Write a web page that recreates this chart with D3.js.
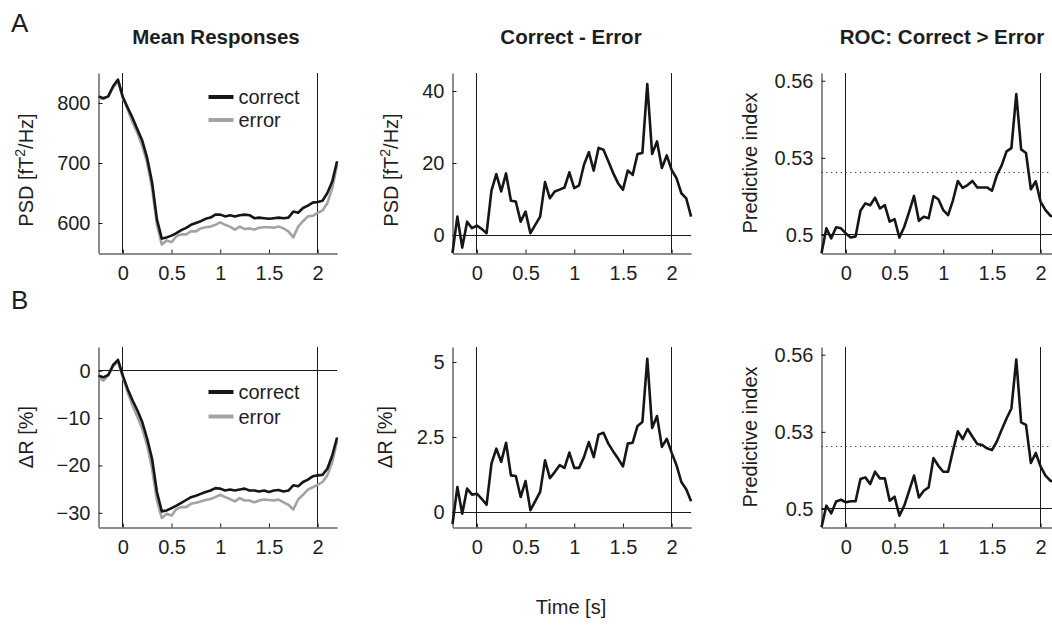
<!DOCTYPE html>
<html>
<head>
<meta charset="utf-8">
<script src="https://cdn.jsdelivr.net/npm/d3@7/dist/d3.min.js"></script>
<style>
  body { margin: 0; background: #fff; }
  svg { display: block; font-family: "Liberation Sans", Arial, Helvetica, sans-serif; }
</style>
</head>
<body>
<script>
// ---------------- data ----------------
const time = [-0.25,-0.2,-0.15,-0.1,-0.05,0,0.05,0.1,0.15,0.2,0.25,0.3,0.35,0.4,0.45,0.5,0.55,0.6,0.65,0.7,
  0.75,0.8,0.85,0.9,0.95,1,1.05,1.1,1.15,1.2,1.25,1.3,1.35,1.4,1.45,1.5,1.55,1.6,1.65,1.7,
  1.75,1.8,1.85,1.9,1.95,2,2.05,2.1,2.15,2.2];

const psdCorrect = [811,808,811,828,839,810,792,775,756,737,708,668,606,574,576,579,583,588,592,597,
  600,603,607,609,614,614,611,613,611,613,614,613,608,609,608,607,608,609,608,609,
  619,617,625,629,634,635,637,650,669,703];
const psdError = [808,807,811,826,836,808,789,768,750,728,700,658,597,564,571,568,578,581,581,586,
  586,591,593,594,597,601,597,594,589,594,590,591,589,592,593,593,592,594,591,586,
  576,594,603,611,612,617,621,633,658,697];

const drCorrect = [-1.05,-1.4,-0.9,1.2,2.3,-1.05,-3.9,-6.3,-8.4,-10.9,-14.4,-18.6,-25.6,-29.7,-29.5,-29.0,-28.5,-27.9,-27.3,-26.7,
  -26.4,-26.0,-25.6,-25.3,-24.8,-24.9,-25.3,-25.1,-25.3,-25.1,-24.9,-25.3,-25.3,-25.5,-25.3,-25.6,-25.3,-25.2,-25.5,-25.3,
  -24.2,-24.4,-23.5,-23.0,-22.3,-22.1,-22.0,-20.7,-17.9,-14.1];
const drError = [-1.4,-2.1,-1.05,0.9,1.9,-1.4,-4.6,-7.4,-9.8,-12.3,-15.8,-20.7,-27.4,-31.1,-30.2,-30.6,-29.2,-28.8,-28.8,-28.1,
  -27.9,-27.6,-27.3,-27.1,-26.7,-26.2,-26.7,-27.1,-27.6,-26.9,-27.4,-27.4,-27.8,-27.4,-27.2,-27.3,-27.4,-27.2,-27.8,-28.3,
  -29.3,-27.2,-26.2,-25.1,-24.6,-24.1,-23.5,-22.1,-19.3,-14.8];

const psdDiff = [-5,5.1,-3.5,3.7,1.9,2.6,1.7,0.5,12.3,16.9,12.1,17.1,9.5,9.3,3.7,6.5,0.5,2.8,5.1,14.7,
  10.2,12.1,12.6,13.2,17.4,13.0,13.8,19.5,23.0,17.9,24.2,23.7,20.5,17.2,14.4,12.6,17.9,16.7,22.5,22.8,
  41.9,22.5,26.0,18.6,22.1,18.1,15.8,11.6,10.2,5.1];
const drDiff = [-0.4,0.83,-0.06,0.78,0.58,0.61,0.44,0.24,1.61,2.11,1.67,2.31,1.22,1.2,0.5,1.03,0.06,0.36,0.67,1.72,
  1.13,1.33,1.56,1.47,1.98,1.47,1.47,1.83,2.33,1.83,2.58,2.64,2.28,2.02,1.78,1.52,2.28,2.31,2.87,3.0,
  5.11,2.8,3.2,2.17,2.44,1.98,1.56,1.0,0.76,0.36];

const rocPsd = [0.4929,0.5026,0.4987,0.503,0.5026,0.5006,0.499,0.4994,0.5094,0.5123,0.5116,0.5145,0.5103,0.5116,0.5052,0.5062,0.499,0.5032,0.509,0.5152,
  0.5055,0.5071,0.5065,0.5151,0.5139,0.5097,0.5077,0.5135,0.521,0.5183,0.5194,0.521,0.5185,0.5185,0.5185,0.5172,0.5232,0.5271,0.5325,0.5338,
  0.5548,0.5333,0.5319,0.5178,0.5209,0.5129,0.5097,0.5075,0.507,0.5065];
const rocDr = [0.4929,0.5013,0.4983,0.5029,0.5036,0.5026,0.503,0.503,0.5117,0.5123,0.5097,0.5145,0.5119,0.5119,0.5032,0.5048,0.4974,0.5013,0.5071,0.513,
  0.5045,0.5071,0.5084,0.5198,0.5168,0.5145,0.5145,0.5227,0.5302,0.5272,0.5311,0.5281,0.5253,0.5249,0.5236,0.5229,0.5262,0.5308,0.5352,0.5391,
  0.5581,0.5337,0.5327,0.5179,0.5218,0.5165,0.513,0.511,0.5105,0.51];

const rocThreshold = 0.5245;
const xTicks = [0, 0.5, 1, 1.5, 2];
const titles = ["Mean Responses", "Correct - Error", "ROC: Correct > Error"];
const legendLabels = ["correct", "error"];
const rowLetters = ["A", "B"];

// ---------------- layout ----------------
const W = 1052, H = 625;
const colLeft = [98.5, 452.5, 821.5];
const panelW = 238.6;
const rowTop = [73, 347];
const panelH = 180;
const BLACK = "#161616", GRAY = "#a3a3a3";
const snap = v => Math.round(v - 0.5) + 0.5;

const svg = d3.select("body").append("svg").attr("width", W).attr("height", H);

const minus = s => String(s).replace("-", "\u2212");

const panels = [
  {row:0,col:0, yDomain:[550,850], yTicks:[600,700,800], series:[[psdCorrect,BLACK],[psdError,GRAY]], hlines:[], legend:true, ylabel:"psd", fmt:d=>d},
  {row:0,col:1, yDomain:[-5,45], yTicks:[0,20,40], series:[[psdDiff,BLACK]], hlines:[[0,"solid"]], ylabel:"psd", fmt:d=>d},
  {row:0,col:2, yDomain:[0.493,0.563], yTicks:[0.5,0.53,0.56], series:[[rocPsd,BLACK]], hlines:[[0.5,"solid"],[rocThreshold,"dot"]], ylabel:"roc", fmt:d=>String(d)},
  {row:1,col:0, yDomain:[-33,5], yTicks:[-30,-20,-10,0], series:[[drCorrect,BLACK],[drError,GRAY]], hlines:[[0,"solid"]], legend:true, ylabel:"dr", fmt:d=>minus(d)},
  {row:1,col:1, yDomain:[-0.5,5.5], yTicks:[0,2.5,5], series:[[drDiff,BLACK]], hlines:[[0,"solid"]], ylabel:"dr", fmt:d=>String(d)},
  {row:1,col:2, yDomain:[0.493,0.563], yTicks:[0.5,0.53,0.56], series:[[rocDr,BLACK]], hlines:[[0.5,"solid"],[rocThreshold,"dot"]], ylabel:"roc", fmt:d=>String(d)}
];

const ylabelX = [[33, 398, 757],[33, 392, 757]];

panels.forEach(p => {
  const left = colLeft[p.col], top = rowTop[p.row];
  const x = d3.scaleLinear().domain([-0.25, 2.2]).range([left, left + panelW]);
  const y = d3.scaleLinear().domain(p.yDomain).range([top + panelH, top]);
  const g = svg.append("g");

  // reference lines
  [0, 2].forEach(v => {
    g.append("line").attr("x1", snap(x(v))).attr("x2", snap(x(v))).attr("y1", y.range()[0]).attr("y2", y.range()[1])
      .attr("stroke", "#1a1a1a").attr("stroke-width", 1);
  });
  p.hlines.forEach(([v, style]) => {
    const l = g.append("line").attr("x1", x.range()[0]).attr("x2", x.range()[1]).attr("y1", snap(y(v))).attr("y2", snap(y(v)))
      .attr("stroke", "#1a1a1a").attr("stroke-width", 1);
    if (style === "dot") l.attr("stroke-dasharray", "1.2,3.6").attr("stroke", "#333");
  });

  // axes
  const ax = g.append("g").attr("transform", `translate(0,${top + panelH + 0.5})`)
    .call(d3.axisBottom(x).tickValues(xTicks).tickFormat(d => String(d)).tickSizeInner(-4).tickSizeOuter(0).tickPadding(12));
  const ay = g.append("g").attr("transform", `translate(${left},0)`)
    .call(d3.axisLeft(y).tickValues(p.yTicks).tickFormat(p.fmt).tickSizeInner(-4).tickSizeOuter(0).tickPadding(8));
  [ax, ay].forEach(a => {
    a.select(".domain").attr("stroke", "#1a1a1a").attr("stroke-width", 1);
    a.selectAll(".tick line").attr("stroke", "#1a1a1a");
    a.selectAll("text").attr("font-size", 20).attr("fill", "#1e1e1e")
      .attr("font-family", "'Liberation Sans', Arial, sans-serif");
  });

  // series
  const line = d3.line().x((d, i) => x(time[i])).y(d => y(d));
  p.series.slice().reverse().forEach(([vals, color]) => {
    g.append("path").datum(vals).attr("d", line).attr("fill", "none")
      .attr("stroke", color).attr("stroke-width", 2.6).attr("stroke-linejoin", "round");
  });

  // legend
  if (p.legend) {
    const ly = p.row === 0 ? [top + 24, top + 47] : [top + 45, top + 69.5];
    [[BLACK, legendLabels[0]], [GRAY, legendLabels[1]]].forEach(([c, t], i) => {
      g.append("line").attr("x1", left + 110).attr("x2", left + 135).attr("y1", ly[i]).attr("y2", ly[i])
        .attr("stroke", c).attr("stroke-width", 4);
      g.append("text").attr("x", left + 140).attr("y", ly[i]).attr("dy", "0.35em")
        .attr("font-size", 20).attr("fill", "#1e1e1e").text(t);
    });
  }

  // y label
  const cy = top + panelH / 2;
  const lx = ylabelX[p.row][p.col];
  const t = g.append("text").attr("transform", `translate(${lx},${cy + (p.ylabel === "psd" ? 7 : 0)}) rotate(-90)`)
    .attr("text-anchor", "middle").attr("font-size", 20).attr("fill", "#1e1e1e");
  if (p.ylabel === "psd") {
    t.append("tspan").text("PSD [fT");
    t.append("tspan").attr("dy", -8).attr("font-size", 14).text("2");
    t.append("tspan").attr("dy", 8).text("/Hz]");
  } else if (p.ylabel === "dr") {
    t.text("\u0394R [%]");
  } else {
    t.text("Predictive index");
  }
});

// titles
titles.forEach((tt, i) => {
  const cx = [216, 571, 942][i];
  svg.append("text").attr("x", cx).attr("y", 44).attr("text-anchor", "middle")
    .attr("font-size", 20.5).attr("font-weight", "bold").attr("fill", "#1e1e1e").text(tt);
});

// row letters
rowLetters.forEach((l, i) => {
  svg.append("text").attr("x", 11).attr("y", [31.5, 309][i]).attr("font-size", 26).attr("fill", "#1e1e1e").text(l);
});

// x label
svg.append("text").attr("x", 571).attr("y", 614).attr("text-anchor", "middle")
  .attr("font-size", 20).attr("fill", "#1e1e1e").text("Time [s]");
</script>
</body>
</html>
